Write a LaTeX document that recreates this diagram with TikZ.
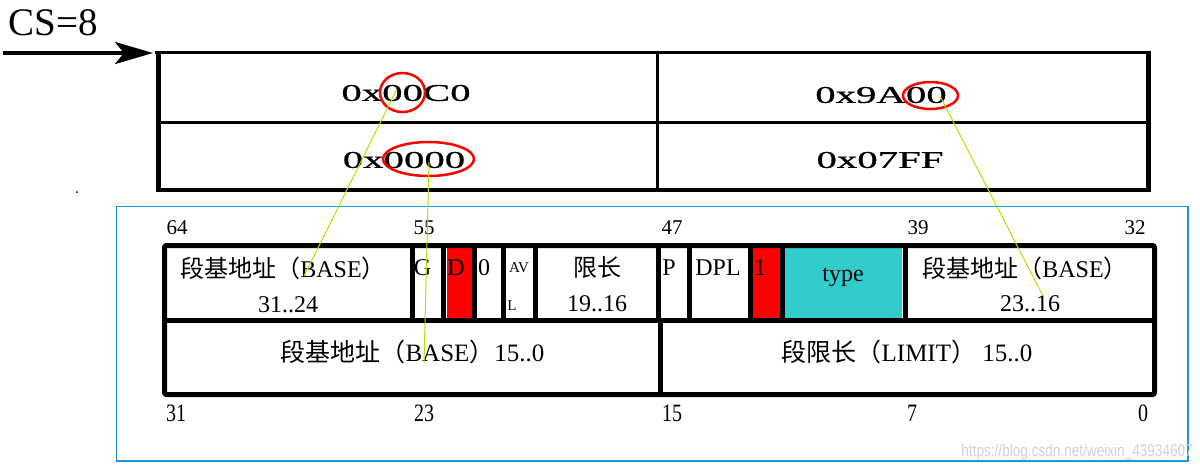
\documentclass[tikz,border=0pt]{standalone}
\usepackage{fontspec}
\setmainfont{Liberation Serif}
\newfontfamily\cjk{Noto Sans CJK SC}
\newfontfamily\hexfont[FakeStretch=1.7,FakeBold=1]{Liberation Serif}
\newfontfamily\condfont[FakeStretch=0.8]{Liberation Serif}
\newfontfamily\wmfont[FakeStretch=0.8]{Liberation Sans}
\usetikzlibrary{arrows.meta,shapes.geometric}
\definecolor{frameblue}{RGB}{30,150,215}
\definecolor{typecyan}{RGB}{51,204,204}
\definecolor{linkgreen}{RGB}{180,225,0}
\newcommand{\fsz}[1]{\fontsize{#1}{#1}\selectfont}
\begin{document}
\begin{tikzpicture}[x=1pt,y=-1pt,
  txt/.style={inner sep=0pt, font=\fsz{24}},
  bigtxt/.style={inner sep=0pt, font=\fsz{25}},
  small/.style={inner sep=0pt, font=\fsz{15}},
  bitlbl/.style={inner sep=0pt, font=\fsz{21}},
  botlbl/.style={inner sep=0pt, font=\condfont\fsz{25}},
  hex/.style={inner sep=0pt, font=\hexfont\fsz{24}},
  cell/.style={line width=5pt, line join=round, line cap=round},
  tab/.style={line width=3pt},
  ring/.style={draw=red, line width=2.5pt, ellipse, inner sep=0pt},
  link/.style={draw=linkgreen, line width=1pt}]
\useasboundingbox (0,0) rectangle (1200,469);

% CS=8 and arrow
\node[inner sep=0pt, font=\fsz{39}] (cs) at (53,22.5) {CS=8};
\coordinate (arrstart) at (3,53);
\coordinate (tablecorner) at (153,53);
\draw[line width=4pt, -{Stealth[length=38pt,width=22pt,inset=9pt]}] (arrstart) -- (tablecorner);

% stray dot
\fill (77,192) circle (1pt);

% top table
\draw[tab] (155,52.5) -- (1150,52.5);
\draw[line width=5pt] (158.5,51) -- (158.5,191.5);
\draw[line width=4pt] (156,189.5) -- (1151,189.5);
\draw[line width=5pt] (1148.5,51) -- (1148.5,191.5);
\draw[tab] (161,122) -- (1146,122);
\draw[tab] (657.5,52) -- (657.5,189);

\node[hex] (h1) at (406,93) {0x00C0};
\node[hex] (h2) at (881,95) {0x9A00};
\node[hex] (h3) at (404,160) {0x0000};
\node[hex] (h4) at (880,160) {0x07FF};

\node[ring, minimum width=45pt, minimum height=39pt] (r1) at (402.5,92.5) {};
\node[ring, minimum width=91pt, minimum height=34pt] (r3) at (428.5,159) {};
\node[ring, minimum width=55pt, minimum height=27pt] (r2) at (930.5,95.5) {};

% blue frame
\draw[frameblue, line width=1.5pt] (116.5,206.5) rectangle (1188,461);

% descriptor fills
\fill[red] (447,248) rectangle (472,318);
\fill[red] (753,248) rectangle (780,318);
\fill[typecyan] (785,248) rectangle (902,318);

% descriptor lines
\draw[cell, rounded corners=2pt] (164.5,245.5) rectangle (1154.5,394.5);
\draw[cell] (164.5,320) -- (1154.5,320);
\foreach \xx in {412,443.5,474.5,503.5,535.5,658.5,689.5,750.5,782.5,905}
  \draw[cell] (\xx,245.5) -- (\xx,320);
\draw[cell] (660.5,320) -- (660.5,394.5);

% bit labels top
\node[bitlbl] (b64) at (177,228) {64};
\node[bitlbl] (b55) at (424,228) {55};
\node[bitlbl] (b47) at (672,228) {47};
\node[bitlbl] (b39) at (918,228) {39};
\node[bitlbl] (b32) at (1135,228) {32};

% bit labels bottom
\node[botlbl] (b31) at (176,413) {31};
\node[botlbl] (b23) at (424,413) {23};
\node[botlbl] (b15) at (672,413) {15};
\node[botlbl] (b7) at (912,413) {7};
\node[botlbl] (b0) at (1143,413) {0};

% cell texts upper row
\node[txt] (base1) at (283,268) {{\cjk 段基地址（}BASE{\cjk ）}};
\node[txt] (base1b) at (288,305) {31..24};
\node[txt] (g) at (422.5,268) {G};
\node[txt] (d) at (456,268) {D};
\node[txt] (zero) at (484,268) {0};
\node[small] (av) at (519,268) {AV};
\node[small] (l) at (512,306) {L};
\node[txt] (lim1) at (597,267) {\cjk 限长};
\node[txt] (lim1b) at (597,304) {19..16};
\node[txt] (p) at (669,268) {P};
\node[txt] (dpl) at (718,268) {DPL};
\node[txt] (one) at (760,268) {1};
\node[txt] (type) at (843,277) {type};
\node[txt] (base2) at (1025,268) {{\cjk 段基地址（}BASE{\cjk ）}};
\node[txt] (base2b) at (1030,304) {23..16};

% lower row
\node[bigtxt] (base3) at (412.5,352) {{\cjk 段基地址（}BASE{\cjk ）}15..0};
\node[bigtxt] (lim2) at (907,352) {{\cjk 段限长（}LIMIT{\cjk ）} 15..0};

% links
\coordinate (r1s) at (397,89);
\coordinate (t1) at (304,276);
\coordinate (r3s) at (429,162);
\coordinate (t3) at (424,363);
\coordinate (r2s) at (940,96);
\coordinate (t2) at (1043,296);
\draw[link] (r1s) -- (t1);
\draw[link] (r3s) -- (t3);
\draw[link] (r2s) -- (t2);

% watermark
\node[anchor=east, inner sep=0pt, font=\wmfont\fsz{17}, text=black!18] (wm) at (1193,452) {https://blog.csdn.net/weixin\_43934607};
\end{tikzpicture}
\end{document}
